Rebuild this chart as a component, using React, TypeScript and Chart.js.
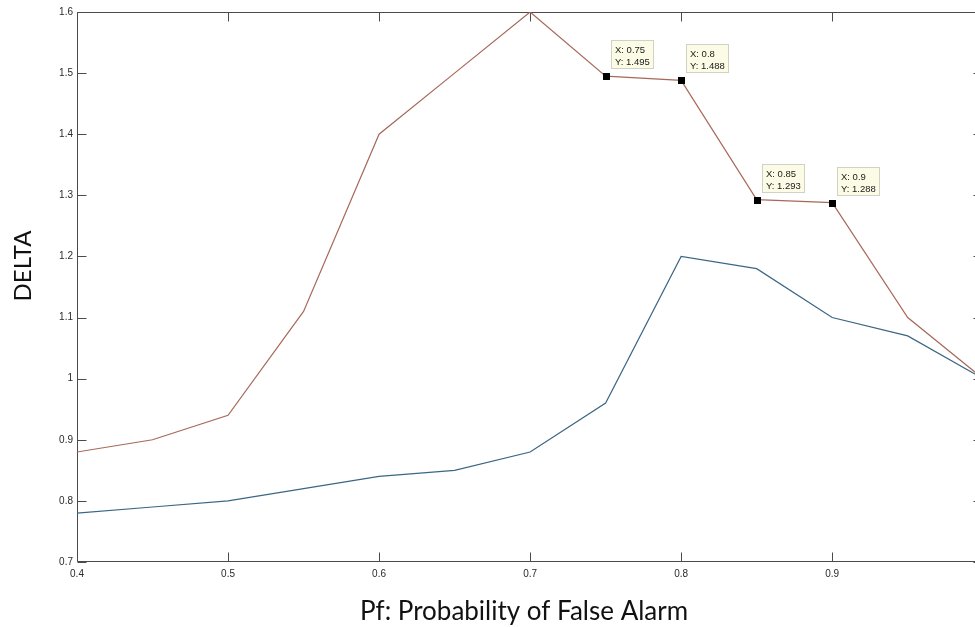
import React, { useEffect, useRef } from "react";
import { Chart, registerables } from "chart.js";

Chart.register(...registerables);

// Probability of false alarm (x) and the two DELTA curves
const pf = [0.4, 0.45, 0.5, 0.55, 0.6, 0.65, 0.7, 0.75, 0.8, 0.85, 0.9, 0.95, 1.0];
const deltaUpper = [0.88, 0.9, 0.94, 1.11, 1.4, 1.5, 1.6, 1.495, 1.488, 1.293, 1.288, 1.1, 1.0];
const deltaLower = [0.78, 0.79, 0.8, 0.82, 0.84, 0.85, 0.88, 0.96, 1.2, 1.18, 1.1, 1.07, 1.0];

// Points on the upper curve that carry a data tip
const tipPf = [0.75, 0.8, 0.85, 0.9];

const xTitle = "Pf: Probability of False Alarm";
const yTitle = "DELTA";

const UPPER_COLOR = "#a8695a";
const LOWER_COLOR = "#3b6684";
const AXIS_COLOR = "#4a4a4a";
const TICK_LEN = 9;

const fmt = (v: number) => String(Number(Number(v).toFixed(2)));

// Box outline with inward tick marks on all four sides
const framePlugin = {
  id: "frame",
  beforeDatasetsDraw(chart: any) {
    const { ctx, chartArea: a, scales } = chart;
    ctx.save();
    ctx.strokeStyle = AXIS_COLOR;
    ctx.lineWidth = 1;
    const l = Math.round(a.left) + 0.5;
    const r = Math.round(a.right) - 0.5;
    const t = Math.round(a.top) + 0.5;
    const b = Math.round(a.bottom) - 0.5;
    ctx.beginPath();
    ctx.rect(l, t, r - l, b - t);
    for (const tk of scales.x.ticks) {
      const px = Math.round(scales.x.getPixelForValue(tk.value)) + 0.5;
      ctx.moveTo(px, b);
      ctx.lineTo(px, b - TICK_LEN);
      ctx.moveTo(px, t);
      ctx.lineTo(px, t + TICK_LEN);
    }
    for (const tk of scales.y.ticks) {
      const py = Math.round(scales.y.getPixelForValue(tk.value)) + 0.5;
      ctx.moveTo(l, py);
      ctx.lineTo(l + TICK_LEN, py);
      ctx.moveTo(r, py);
      ctx.lineTo(r - TICK_LEN, py);
    }
    ctx.stroke();
    ctx.restore();
  },
};

// Data tips: black square marker plus a small yellow note with X / Y values
const dataTipPlugin = {
  id: "dataTips",
  afterDatasetsDraw(chart: any) {
    const { ctx, scales } = chart;
    ctx.save();
    ctx.font = "9.5px 'Liberation Sans', Arial, sans-serif";
    ctx.textBaseline = "alphabetic";
    ctx.textAlign = "left";
    for (const xv of tipPf) {
      const i = pf.indexOf(xv);
      if (i < 0) continue;
      const yv = deltaUpper[i];
      const px = scales.x.getPixelForValue(xv);
      const py = scales.y.getPixelForValue(yv);
      ctx.fillStyle = "#000";
      ctx.fillRect(Math.round(px) - 3, Math.round(py) - 3, 7, 7);

      const l1 = "X: " + String(xv);
      const l2 = "Y: " + String(yv);
      const w = Math.ceil(Math.max(ctx.measureText(l1).width, ctx.measureText(l2).width)) + 7;
      const h = 28;
      const bx = Math.round(px) + 5.5;
      const by = Math.round(py) - 7.5 - h;
      ctx.fillStyle = "#fcfce6";
      ctx.fillRect(bx, by, w, h);
      ctx.strokeStyle = "#d2d2c4";
      ctx.lineWidth = 1;
      ctx.strokeRect(bx, by, w, h);
      ctx.fillStyle = "#1a1a1a";
      ctx.fillText(l1, bx + 3.5, by + 12);
      ctx.fillText(l2, bx + 3.5, by + 24);
    }
    ctx.restore();
  },
};

// Axis titles
const titlePlugin = {
  id: "axisTitles",
  afterDraw(chart: any) {
    const { ctx } = chart;
    ctx.save();
    ctx.fillStyle = "#111";
    ctx.textAlign = "center";
    ctx.textBaseline = "alphabetic";
    ctx.font = "26px Lato, 'Noto Sans', sans-serif";
    ctx.fillText(xTitle, 524, 620);
    ctx.translate(31, 266);
    ctx.rotate(-Math.PI / 2);
    ctx.font = "24px Lato, 'Noto Sans', sans-serif";
    ctx.fillText(yTitle, 0, 0);
    ctx.restore();
  },
};

export default function App() {
  const canvasRef = useRef<HTMLCanvasElement | null>(null);

  useEffect(() => {
    const canvas = canvasRef.current;
    if (!canvas) return;
    const tickFont = { family: "'Liberation Sans', Arial, sans-serif", size: 10 };
    const chart = new Chart(canvas, {
      type: "line",
      data: {
        datasets: [
          {
            label: "upper",
            data: pf.map((x, i) => ({ x, y: deltaUpper[i] })),
            borderColor: UPPER_COLOR,
            borderWidth: 1.2,
            pointRadius: 0,
            tension: 0,
            fill: false,
          },
          {
            label: "lower",
            data: pf.map((x, i) => ({ x, y: deltaLower[i] })),
            borderColor: LOWER_COLOR,
            borderWidth: 1.2,
            pointRadius: 0,
            tension: 0,
            fill: false,
          },
        ],
      },
      options: {
        responsive: false,
        animation: false,
        devicePixelRatio: 1,
        layout: { padding: { left: 0, top: 12, right: 6, bottom: 0 } },
        plugins: {
          legend: { display: false },
          tooltip: { enabled: false },
        },
        scales: {
          x: {
            type: "linear",
            min: 0.4,
            max: 1.0,
            ticks: {
              stepSize: 0.1,
              font: tickFont,
              color: "#2a2a2a",
              padding: 6,
              maxRotation: 0,
              callback: (v: any) => fmt(v),
            },
            grid: { display: false, drawTicks: false },
            border: { display: false },
            afterFit: (s: any) => {
              s.height = 65;
            },
          },
          y: {
            type: "linear",
            min: 0.7,
            max: 1.6,
            ticks: {
              stepSize: 0.1,
              font: tickFont,
              color: "#2a2a2a",
              padding: 4,
              callback: (v: any) => fmt(v),
            },
            grid: { display: false, drawTicks: false },
            border: { display: false },
            afterFit: (s: any) => {
              s.width = 77;
            },
          },
        },
      },
      plugins: [framePlugin, dataTipPlugin, titlePlugin],
    });
    return () => chart.destroy();
  }, []);

  return (
    <div
      style={{
        position: "fixed",
        left: 0,
        top: 0,
        width: 975,
        height: 627,
        overflow: "hidden",
        background: "#fff",
      }}
    >
      <canvas ref={canvasRef} width={992} height={627} style={{ display: "block" }} />
    </div>
  );
}
